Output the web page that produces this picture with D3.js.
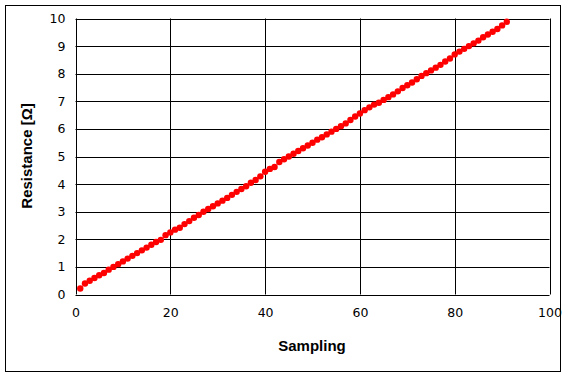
<!DOCTYPE html>
<html>
<head>
<meta charset="utf-8">
<script src="https://cdn.jsdelivr.net/npm/d3@7"></script>
<style>
  body { margin: 0; background: #fff; }
  svg text { font-family: "Liberation Sans", Arial, sans-serif; }
</style>
</head>
<body>
<svg id="chart" width="567" height="378"></svg>
<script>
// sample index 1..91
const samples = d3.range(1, 92);
const resistance = [
  0.22, 0.40, 0.50, 0.60, 0.70, 0.78, 0.90, 1.00, 1.10, 1.20,
  1.30, 1.40, 1.50, 1.60, 1.70, 1.80, 1.90, 1.98, 2.15, 2.25,
  2.35, 2.42, 2.55, 2.66, 2.78, 2.88, 3.00, 3.10, 3.20, 3.30,
  3.40, 3.50, 3.61, 3.72, 3.82, 3.92, 4.05, 4.15, 4.28, 4.45,
  4.55, 4.62, 4.80, 4.90, 5.00, 5.10, 5.20, 5.30, 5.40, 5.50,
  5.61, 5.70, 5.80, 5.90, 6.00, 6.10, 6.20, 6.32, 6.45, 6.56,
  6.68, 6.78, 6.88, 6.95, 7.05, 7.15, 7.25, 7.36, 7.48, 7.58,
  7.68, 7.80, 7.92, 8.02, 8.12, 8.22, 8.32, 8.44, 8.55, 8.70,
  8.80, 8.90, 9.00, 9.10, 9.20, 9.32, 9.42, 9.52, 9.62, 9.75,
  9.88
];
const xTicks = [0, 20, 40, 60, 80, 100];
const yTicks = [0, 1, 2, 3, 4, 5, 6, 7, 8, 9, 10];

const svg = d3.select("#chart");
const plotLeft = 75.5, plotRight = 549.5, plotTop = 18.5, plotBottom = 294.5;

const x = d3.scaleLinear().domain([0, 100]).range([plotLeft, plotRight]);
const y = d3.scaleLinear().domain([0, 10]).range([plotBottom, plotTop]);

// outer frame
svg.append("rect")
  .attr("x", 5.5).attr("y", 5.5)
  .attr("width", 555).attr("height", 366)
  .attr("fill", "none").attr("stroke", "#000").attr("stroke-width", 1);

// grid
svg.append("g").selectAll("line").data(yTicks).join("line")
  .attr("x1", plotLeft).attr("x2", plotRight)
  .attr("y1", d => Math.round(y(d)) + 0.5).attr("y2", d => Math.round(y(d)) + 0.5)
  .attr("stroke", "#000");
svg.append("g").selectAll("line").data(xTicks).join("line")
  .attr("x1", d => Math.round(x(d)) + 0.5).attr("x2", d => Math.round(x(d)) + 0.5)
  .attr("y1", plotTop).attr("y2", plotBottom)
  .attr("stroke", "#000");

// axes (labels only, lines drawn by grid)
const xAxis = svg.append("g")
  .attr("transform", `translate(0,${plotBottom})`)
  .call(d3.axisBottom(x).tickValues(xTicks).tickSize(0).tickPadding(14));
const yAxis = svg.append("g")
  .attr("transform", `translate(${plotLeft},0)`)
  .call(d3.axisLeft(y).tickValues(yTicks).tickSize(0).tickPadding(10));
[xAxis, yAxis].forEach(g => {
  g.select(".domain").remove();
  g.selectAll("text").attr("font-size", 12.5).attr("fill", "#000")
    .style("font-family", "'DejaVu Sans', sans-serif");
});

// points
svg.append("g").selectAll("circle").data(samples).join("circle")
  .attr("cx", (d, i) => x(d))
  .attr("cy", (d, i) => y(resistance[i]))
  .attr("r", 3.2)
  .attr("fill", "#ff0000");

// titles
svg.append("text")
  .attr("x", 312).attr("y", 351)
  .attr("text-anchor", "middle")
  .attr("font-size", 15).attr("font-weight", "bold")
  .text("Sampling");
svg.append("text")
  .attr("transform", "translate(32,156) rotate(-90)")
  .attr("text-anchor", "middle")
  .attr("font-size", 15).attr("font-weight", "bold")
  .text("Resistance [Ω]");
</script>
</body>
</html>
